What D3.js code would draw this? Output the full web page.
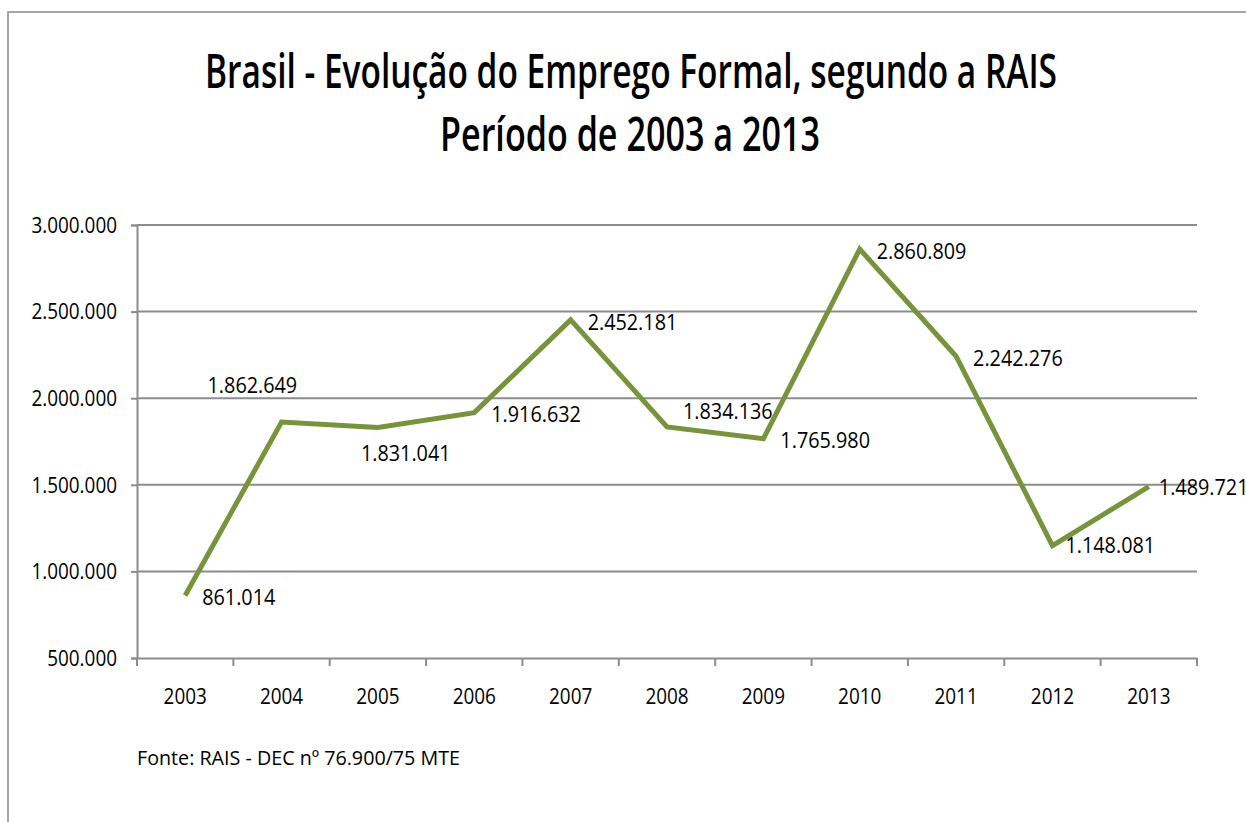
<!DOCTYPE html>
<html>
<head>
<meta charset="utf-8">
<script src="https://cdn.jsdelivr.net/npm/d3@7"></script>
<style>
  body { margin: 0; background: #fff; }
  text { font-family: "Open Sans", sans-serif; fill: #000; }
</style>
</head>
<body>
<div id="chart"></div>
<script>
// data
var years = ["2003", "2004", "2005", "2006", "2007", "2008", "2009", "2010", "2011", "2012", "2013"];
var empregos = [861014, 1862649, 1831041, 1916632, 2452181, 1834136, 1765980, 2860809, 2242276, 1148081, 1489721];
var yTicks = [500000, 1000000, 1500000, 2000000, 2500000, 3000000];
var titleLines = ["Brasil - Evolução do Emprego Formal, segundo a RAIS", "Período de 2003 a 2013"];
var fonte = "Fonte: RAIS - DEC nº 76.900/75 MTE";

// labels that were dragged away from the default "right" spot
var labelNudge = {"2004": [-74, -37], "2005": [-17, 26], "2008": [16, -16], "2012": [13, 0], "2013": [10, 1]};

var W = 1246, H = 822;
var margin = {top: 225, right: 49, bottom: 164, left: 137}
  , width = W - margin.left - margin.right
  , height = H - margin.top - margin.bottom;

// pt-BR number format
var fmt = d3.formatLocale({decimal: ",", thousands: ".", grouping: [3], currency: ["R$", ""]}).format(",d");

// squeeze text a bit so it looks like the narrow original font
function narrow(sel, k) {
    sel.each(function() {
        var w = this.getComputedTextLength();
        d3.select(this).attr("textLength", w * k).attr("lengthAdjust", "spacingAndGlyphs");
    });
}

var svg = d3.select("#chart").append("svg")
    .attr("width", W)
    .attr("height", H);

// outer chart frame (runs off the right/bottom of the picture)
svg.append("rect")
    .attr("x", 8).attr("y", 12)
    .attr("width", W + 20).attr("height", H + 20)
    .attr("fill", "none")
    .attr("stroke", "#a6a6a6")
    .attr("stroke-width", 2);

// title
svg.append("text")
    .attr("x", 631).attr("y", 88)
    .attr("text-anchor", "middle")
    .attr("textLength", 852).attr("lengthAdjust", "spacingAndGlyphs")
    .style("font-size", "47px").style("font-weight", 600)
    .text(titleLines[0]);
svg.append("text")
    .attr("x", 630).attr("y", 151)
    .attr("text-anchor", "middle")
    .attr("textLength", 380).attr("lengthAdjust", "spacingAndGlyphs")
    .style("font-size", "47px").style("font-weight", 600)
    .text(titleLines[1]);

var g = svg.append("g")
    .attr("transform", "translate(" + margin.left + "," + margin.top + ")");

var x = d3.scaleBand().domain(years).range([0, width]);
var y = d3.scaleLinear().domain([500000, 3000000]).range([height, 0]);

// gridlines
g.append("g")
    .selectAll("line")
    .data(yTicks.slice(1))
    .enter().append("line")
    .attr("x1", 0).attr("x2", width)
    .attr("y1", function(d) { return y(d); })
    .attr("y2", function(d) { return y(d); })
    .attr("stroke", "#8c8c8c")
    .attr("stroke-width", 2);

// y axis
var yAxis = g.append("g")
    .call(d3.axisLeft(y).tickValues(yTicks).tickFormat(fmt).tickSize(6).tickPadding(14));
yAxis.select(".domain").attr("stroke", "#8c8c8c").attr("stroke-width", 2);
yAxis.selectAll(".tick line").attr("stroke", "#8c8c8c").attr("stroke-width", 2);
yAxis.selectAll("text").style("font-size", "21px").style("font-weight", 500).attr("dy", "0.35em").call(narrow, 0.9);

// x axis: ticks sit between the categories
var xAxis = g.append("g")
    .attr("transform", "translate(0," + height + ")")
    .call(d3.axisBottom(x).tickSize(0).tickPadding(31));
xAxis.select(".domain").attr("stroke", "#8c8c8c").attr("stroke-width", 2);
xAxis.selectAll("text").style("font-size", "21px").style("font-weight", 500).call(narrow, 0.9);
xAxis.selectAll(".sep")
    .data(d3.range(years.length + 1))
    .enter().append("line")
    .attr("class", "sep")
    .attr("x1", function(i) { return i * x.step(); })
    .attr("x2", function(i) { return i * x.step(); })
    .attr("y1", 0).attr("y2", 8)
    .attr("stroke", "#8c8c8c")
    .attr("stroke-width", 2);

var cx = function(d, i) { return x(years[i]) + x.bandwidth() / 2; };

var line = d3.line()
    .x(function(d, i) { return cx(d, i); })
    .y(function(d) { return y(d); });

g.append("path")
    .datum(empregos)
    .attr("fill", "none")
    .attr("stroke", "#77933c")
    .attr("stroke-width", 5)
    .attr("stroke-linejoin", "miter")
    .attr("d", line);

// data labels
g.selectAll(".lbl")
    .data(empregos)
    .enter().append("text")
    .attr("class", "lbl")
    .attr("x", function(d, i) {
        var n = labelNudge[years[i]];
        return cx(d, i) + (n ? n[0] : 17);
    })
    .attr("y", function(d, i) {
        var n = labelNudge[years[i]];
        return y(d) + (n ? n[1] : 2);
    })
    .attr("dy", "0.35em")
    .style("font-size", "22px")
    .text(function(d) { return fmt(d); })
    .call(narrow, 0.9);

// source note
svg.append("text")
    .attr("x", 137).attr("y", 765)
    .attr("textLength", 323).attr("lengthAdjust", "spacingAndGlyphs")
    .style("font-size", "20px").style("font-weight", 500)
    .text(fonte);
</script>
</body>
</html>
